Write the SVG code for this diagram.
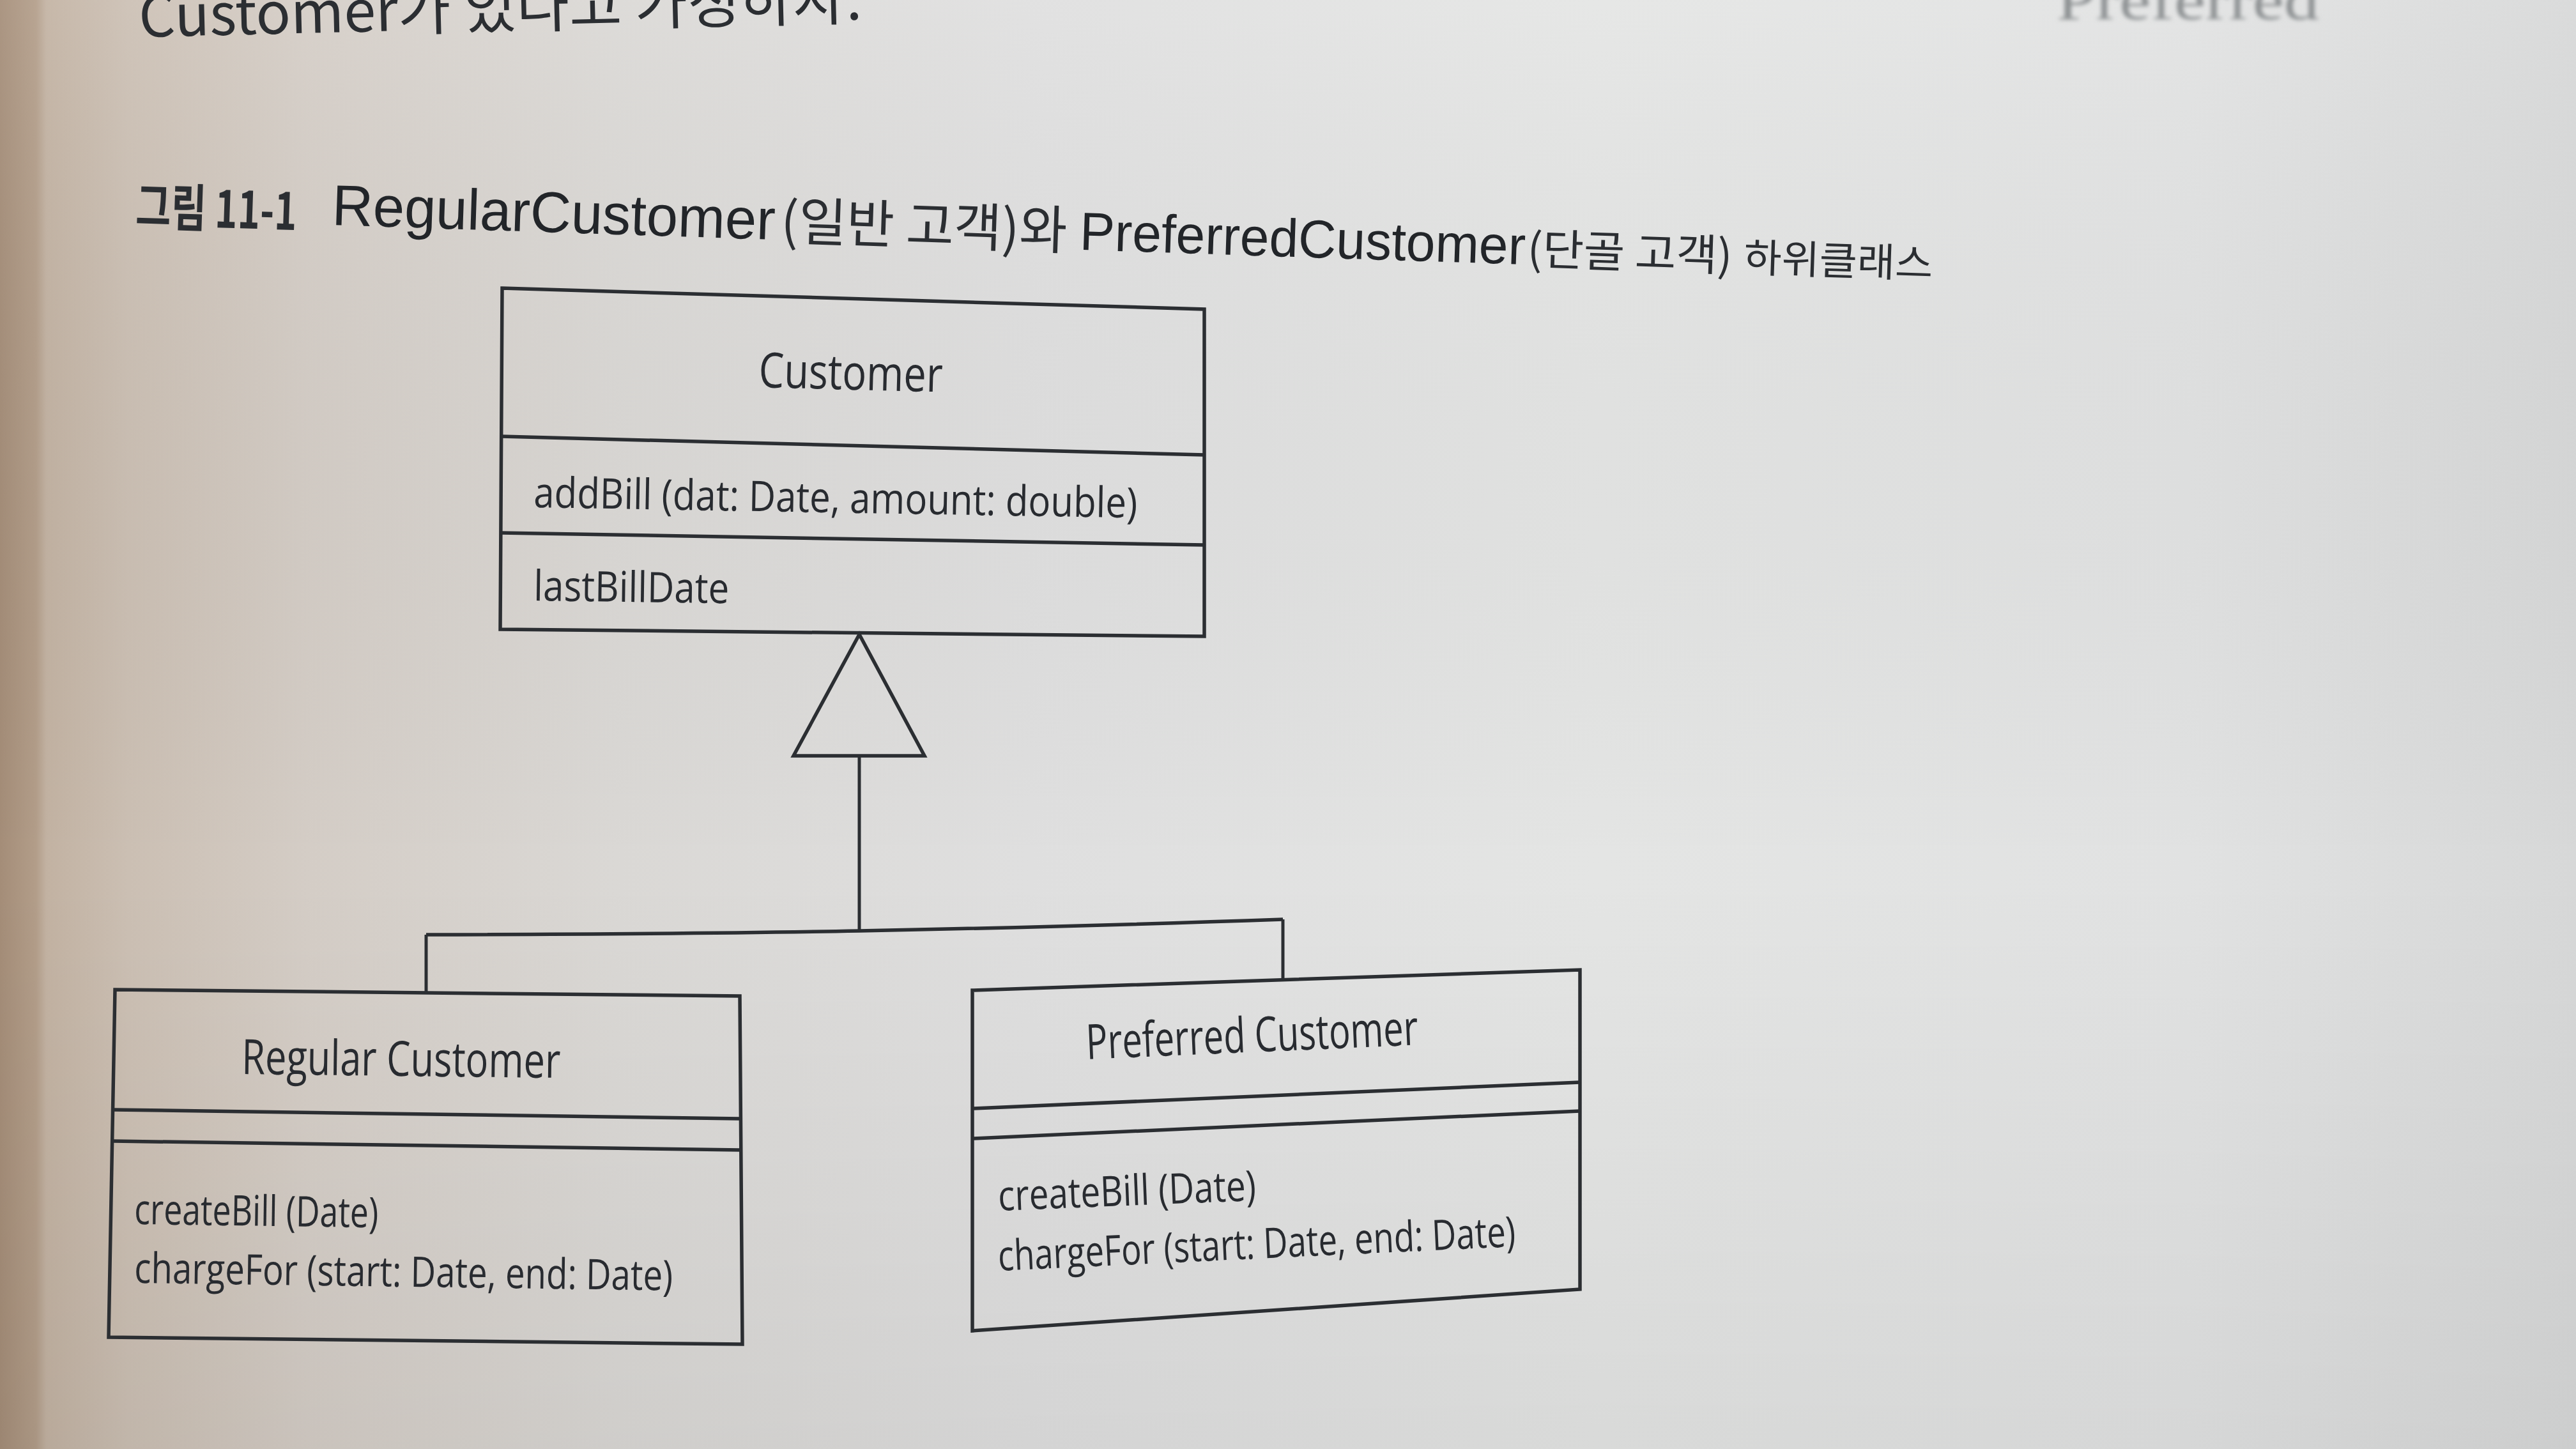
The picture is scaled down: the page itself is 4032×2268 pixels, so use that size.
<svg xmlns="http://www.w3.org/2000/svg" width="4032" height="2268" viewBox="0 0 4032 2268">
<defs>
<linearGradient id="page" gradientUnits="userSpaceOnUse" x1="0" y1="0" x2="4032" y2="0">
<stop offset="0" stop-color="#a48d78"/>
<stop offset="0.014" stop-color="#b29d89"/>
<stop offset="0.018" stop-color="#c2b2a2"/>
<stop offset="0.05" stop-color="#cbbfb3"/>
<stop offset="0.12" stop-color="#d4cdc6"/>
<stop offset="0.24" stop-color="#dad8d5"/>
<stop offset="0.4" stop-color="#dfdfdf"/>
<stop offset="0.62" stop-color="#e4e5e4"/>
<stop offset="0.85" stop-color="#e1e2e2"/>
<stop offset="1" stop-color="#d7d8d8"/>
</linearGradient>
<linearGradient id="shade" gradientUnits="userSpaceOnUse" x1="0" y1="0" x2="0" y2="2268">
<stop offset="0" stop-color="#ffffff" stop-opacity="0.08"/>
<stop offset="0.6" stop-color="#000000" stop-opacity="0"/>
<stop offset="1" stop-color="#000000" stop-opacity="0.05"/>
</linearGradient>
<filter id="blur" x="-5%" y="-50%" width="110%" height="200%"><feGaussianBlur stdDeviation="3"/></filter>
<style>
.box{fill:none;stroke:#2b2e32;stroke-width:5.5;stroke-linejoin:miter}
.ln{fill:none;stroke:#2b2e32;stroke-width:5}
.cls{font-family:"Open Sans","Noto Sans",sans-serif;font-size:76px;fill:#282b30}
.mth{font-family:"Open Sans","Noto Sans",sans-serif;font-size:66px;fill:#282b30}
.ttl{font-family:"Liberation Sans","Noto Sans CJK KR",sans-serif;fill:#222529}
.ko{font-family:"Noto Sans CJK KR","Liberation Sans",sans-serif;fill:#2b2e32}
</style>
</defs>

<g id="background">
<rect x="0" y="0" width="4032" height="2268" fill="url(#page)"/>
<rect x="0" y="0" width="4032" height="2268" fill="url(#shade)"/>
</g>

<g id="page-text">
<text class="ko" x="218" y="58" font-size="90" textLength="1132" lengthAdjust="spacingAndGlyphs" transform="rotate(-1.4 218 58)" fill="#34302c">Customer가 있다고 가정하자.</text>
<text x="3219" y="30" font-family="Liberation Serif, serif" font-size="88" fill="#8d9193" textLength="411" lengthAdjust="spacingAndGlyphs" filter="url(#blur)">Preferred</text>
</g>

<g id="title" transform="rotate(1.9 519 352)">
<text class="ko" x="212" y="362" font-size="80" font-weight="bold" fill="#77726d" textLength="252" lengthAdjust="spacingAndGlyphs">그림 11-1</text>
<text class="ttl" x="519" y="352" font-size="90" textLength="694" lengthAdjust="spacingAndGlyphs">RegularCustomer</text>
<text class="ko" x="1222" y="352" font-size="82" textLength="448" lengthAdjust="spacingAndGlyphs">(일반 고객)와</text>
<text class="ttl" x="1690" y="352" font-size="84" textLength="698" lengthAdjust="spacingAndGlyphs">PreferredCustomer</text>
<text class="ko" x="2391" y="352" font-size="68" textLength="321" lengthAdjust="spacingAndGlyphs">(단골 고객)</text>
<text class="ko" x="2730" y="352" font-size="62" fill="#55585b" textLength="296" lengthAdjust="spacingAndGlyphs">하위클래스</text>
</g>

<g id="node-customer">
<polygon class="box" points="786,451 1885,484 1885,996 783,985"/>
<line class="box" x1="785" y1="683" x2="1885" y2="712"/>
<line class="box" x1="784" y1="834" x2="1885" y2="853"/>
<text class="cls" x="1187" y="606" textLength="288" lengthAdjust="spacingAndGlyphs" transform="rotate(1.5 1187 606)">Customer</text>
<text class="mth" x="835" y="794" textLength="945" lengthAdjust="spacingAndGlyphs" transform="rotate(1.0 835 794)">addBill (dat: Date, amount: double)</text>
<text class="mth" x="835" y="940" textLength="306" lengthAdjust="spacingAndGlyphs" transform="rotate(0.8 835 940)">lastBillDate</text>
</g>

<g id="node-regular">
<polygon class="box" points="180,1549 1158,1559 1162,2104 170,2093"/>
<line class="box" x1="178" y1="1737" x2="1159" y2="1751"/>
<line class="box" x1="177" y1="1786" x2="1159" y2="1800"/>
<text class="cls" x="378" y="1681" textLength="499" lengthAdjust="spacingAndGlyphs" transform="rotate(0.7 378 1681)">Regular Customer</text>
<text class="mth" x="210" y="1916" textLength="382" lengthAdjust="spacingAndGlyphs" transform="rotate(0.8 210 1916)">createBill (Date)</text>
<text class="mth" x="210" y="2008" textLength="843" lengthAdjust="spacingAndGlyphs" transform="rotate(0.8 210 2008)">chargeFor (start: Date, end: Date)</text>
</g>

<g id="node-preferred">
<polygon class="box" points="1522,1550 2473,1518 2473,2018 1522,2083"/>
<line class="box" x1="1522" y1="1735" x2="2473" y2="1694"/>
<line class="box" x1="1522" y1="1782" x2="2473" y2="1739"/>
<text class="cls" x="1701" y="1658" textLength="520" lengthAdjust="spacingAndGlyphs" transform="rotate(-2.5 1701 1658)">Preferred Customer</text>
<text class="mth" x="1563" y="1895" textLength="404" lengthAdjust="spacingAndGlyphs" transform="rotate(-2.3 1563 1895)">createBill (Date)</text>
<text class="mth" x="1563" y="1989" textLength="811" lengthAdjust="spacingAndGlyphs" transform="rotate(-2.7 1563 1989)">chargeFor (start: Date, end: Date)</text>
</g>

<g id="connectors">
<polygon class="box" points="1345,993 1242,1183 1447,1183"/>
<line class="ln" x1="1345" y1="1183" x2="1345" y2="1457"/>
<path class="box" d="M667,1463 Q1100,1462 1345,1457 Q1700,1450 2008,1439"/>
<line class="ln" x1="667" y1="1463" x2="667" y2="1554"/>
<line class="ln" x1="2008" y1="1439" x2="2008" y2="1534"/>
</g>
</svg>
